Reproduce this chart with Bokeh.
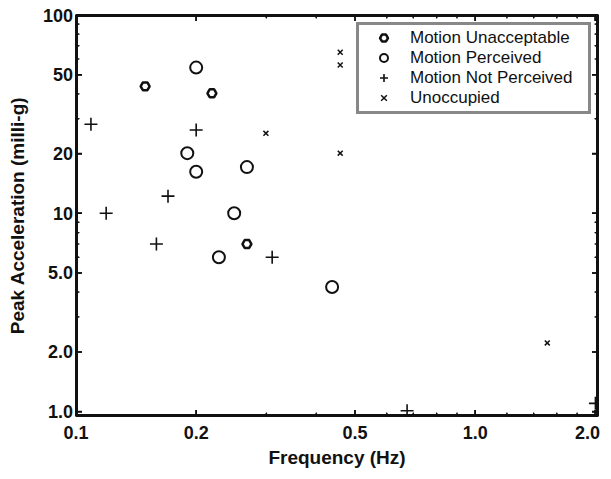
from bokeh.plotting import figure
from bokeh.models import Range1d, FixedTicker, LogAxis, Legend, LegendItem, CustomJSTickFormatter
from bokeh.embed import file_html
from bokeh.resources import INLINE

# ---- data ----
unacc_f = [0.149, 0.219, 0.268]
unacc_a = [43.7, 40.3, 7.0]

perc_f = [0.200, 0.190, 0.200, 0.268, 0.249, 0.228, 0.438]
perc_a = [54.3, 20.1, 16.2, 17.1, 10.0, 6.0, 4.25]

notp_f = [0.109, 0.200, 0.119, 0.170, 0.159, 0.310, 0.675, 2.0]
notp_a = [28.1, 26.3, 10.0, 12.2, 7.0, 6.0, 1.01, 1.10]

unocc_f = [0.299, 0.459, 0.459, 0.459, 1.515]
unocc_a = [25.3, 64.9, 56.0, 20.1, 2.22]

series_labels = ["Motion Unacceptable", "Motion Perceived", "Motion Not Perceived", "Unoccupied"]

x_ticks = [0.1, 0.2, 0.5, 1.0, 2.0]
x_tick_labels = ["0.1", "0.2", "0.5", "1.0", "2.0"]
x_minor = [0.3, 0.4, 0.6, 0.7, 0.8, 0.9, 1.2, 1.4, 1.6, 1.8]
y_ticks = [1, 2, 5, 10, 20, 50, 100]
y_tick_labels = ["1.0", "2.0", "5.0", "10", "20", "50", "100"]
y_minor = [3, 4, 6, 7, 8, 9, 30, 40, 60, 70, 80, 90]

x_lo, x_hi = 0.1, 2.03
y_lo, y_hi = 0.95, 100

FONT = "Liberation Sans"
INK = "#111111"

p = figure(width=600, height=471, x_axis_type="log", y_axis_type="log",
           x_range=Range1d(x_lo, x_hi), y_range=Range1d(y_lo, y_hi),
           output_backend="svg", toolbar_location=None, hidpi=False,
           min_border_left=76, min_border_top=15, min_border_right=2, min_border_bottom=49)

p.grid.visible = False
p.outline_line_color = INK
p.outline_line_width = 2

xt = FixedTicker(ticks=x_ticks, minor_ticks=x_minor)
yt = FixedTicker(ticks=y_ticks, minor_ticks=y_minor)

def style_axis(ax, ticker):
    ax.ticker = ticker
    ax.axis_line_color = INK
    ax.axis_line_width = 2
    ax.major_tick_in = 6
    ax.major_tick_out = 0
    ax.minor_tick_in = 3
    ax.minor_tick_out = 0
    ax.major_tick_line_color = INK
    ax.minor_tick_line_color = INK
    ax.major_tick_line_width = 1.5
    ax.minor_tick_line_width = 1
    ax.major_label_text_font = FONT
    ax.major_label_text_font_style = "bold"
    ax.major_label_text_font_size = "18px"
    ax.major_label_text_color = INK
    ax.axis_label_text_font = FONT
    ax.axis_label_text_font_style = "bold"
    ax.axis_label_text_font_size = "19px"
    ax.axis_label_text_color = INK

style_axis(p.xaxis[0], xt)
style_axis(p.yaxis[0], yt)
p.xaxis[0].major_label_overrides = {t: l for t, l in zip(x_ticks, x_tick_labels)}
p.yaxis[0].major_label_overrides = {t: l for t, l in zip(y_ticks, y_tick_labels)}
p.xaxis.axis_label = "Frequency (Hz)"
p.yaxis.axis_label = "Peak Acceleration (milli-g)"
p.xaxis.major_label_standoff = 10
p.xaxis.axis_label_standoff = 5
p.yaxis.major_label_standoff = 3
p.yaxis.axis_label_standoff = 12

blank = CustomJSTickFormatter(code="return ''")
top = LogAxis(formatter=blank)
right = LogAxis(formatter=blank)
for ax, t in ((top, xt), (right, yt)):
    style_axis(ax, t)
    ax.major_label_standoff = 0
p.add_layout(top, "above")
p.add_layout(right, "right")

# ---- frame as a hollow quad on the range limits (half clipped by the frame) ----
p.quad(left=[x_lo], right=[x_hi], bottom=[y_lo], top=[y_hi],
       fill_color=None, line_color=INK, line_width=4)

# ---- inward ticks: cross markers centred on each edge; the outer half is clipped ----
for edge in (y_lo, y_hi):
    p.scatter(x_ticks, [edge] * len(x_ticks), marker="cross", size=12,
              line_width=1.5, line_color=INK)
    p.scatter(x_minor, [edge] * len(x_minor), marker="cross", size=7,
              line_width=1.2, line_color=INK)
for edge in (x_lo, x_hi):
    p.scatter([edge] * len(y_ticks), y_ticks, marker="cross", size=12,
              line_width=1.5, line_color=INK)
    p.scatter([edge] * len(y_minor), y_minor, marker="cross", size=7,
              line_width=1.2, line_color=INK)

r1 = p.scatter(unacc_f, unacc_a, marker="hex", size=9, line_width=2.5,
               line_color=INK, fill_color="white")
r2 = p.scatter(perc_f, perc_a, marker="circle", size=12, line_width=2,
               line_color=INK, fill_color=None)
r3 = p.scatter(notp_f, notp_a, marker="cross", size=13, line_width=1.6,
               line_color=INK)
r4 = p.scatter(unocc_f, unocc_a, marker="x", size=7, line_width=1.5,
               line_color=INK)

legend = Legend(items=[LegendItem(label=l, renderers=[r]) for l, r in
                       zip(series_labels, [r1, r2, r3, r4])],
                location="top_right")
legend.border_line_color = INK
legend.border_line_width = 3
legend.margin = 7
legend.padding = 3
legend.spacing = 0
legend.label_height = 20
legend.glyph_height = 20
legend.glyph_width = 44
legend.label_standoff = 4
legend.label_width = 175
legend.label_text_font = FONT
legend.label_text_font_size = "17px"
legend.label_text_color = INK
p.add_layout(legend, "center")

open("out.html", "w").write(file_html(p, INLINE))
